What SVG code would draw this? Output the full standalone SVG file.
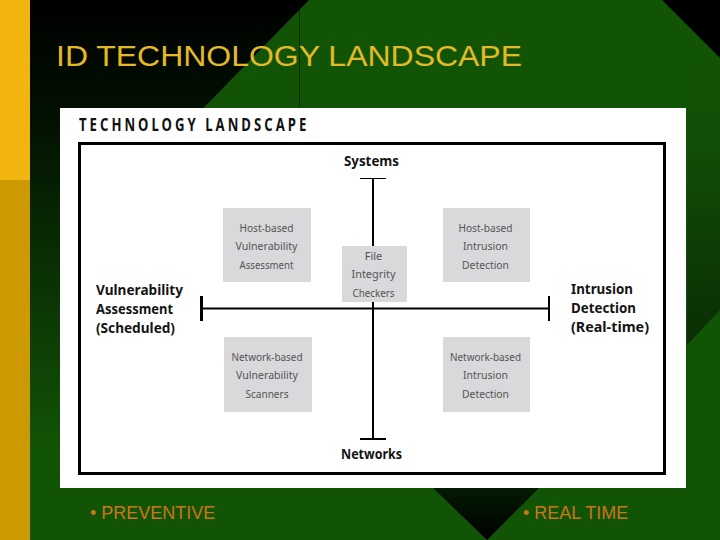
<svg xmlns="http://www.w3.org/2000/svg" width="720" height="540" viewBox="0 0 720 540">
<style>
.box{fill:#d9d8da}
.t{font-family:"Noto Sans","Liberation Sans",sans-serif;text-anchor:middle}
.g{font-size:11px;fill:#555}
.b{font-size:14.5px;font-weight:700;fill:#141414;text-anchor:start}
.c{font-size:14.5px;font-weight:700;fill:#141414}
.bul{font-family:"Liberation Sans",Arial,sans-serif;font-size:18px;fill:#cb7418}
.ax{stroke:#000;fill:none}
</style>
<defs>
<linearGradient id="dk" gradientUnits="userSpaceOnUse" x1="0" y1="0" x2="0" y2="450"><stop offset="0" stop-color="#000"/><stop offset="0.25" stop-color="#021002"/><stop offset="1" stop-color="#125406"/></linearGradient>
<linearGradient id="right" gradientUnits="userSpaceOnUse" x1="0" y1="60" x2="0" y2="345"><stop offset="0" stop-color="#125406"/><stop offset="0.3" stop-color="#114e06"/><stop offset="1" stop-color="#0a2d04"/></linearGradient>
<linearGradient id="tri" x1="0" y1="0" x2="0" y2="1"><stop offset="0" stop-color="#031a02"/><stop offset="1" stop-color="#000"/></linearGradient>
</defs>
<g id="background">
<rect width="720" height="540" fill="#125406"/>
<polygon points="687,60 720,60 720,310 687,345" fill="url(#right)"/>
<polygon points="30,0 309,0 60,255 60,488 30,488" fill="url(#dk)"/>
<polygon points="662,0 720,0 720,58" fill="#000"/>
<polygon points="433,488 539,488 487,540" fill="url(#tri)"/>
<line x1="299.5" y1="10" x2="299.500" y2="108" stroke="#0a2f06" stroke-width="1"/>
<rect x="0" y="0" width="30" height="180" fill="#f2b50f"/>
<rect x="0" y="180" width="30" height="360" fill="#cc9a00"/>
</g>
<text id="title" x="56" y="66" font-family="Liberation Sans,Arial,sans-serif" font-size="29.5" fill="#e3b925" textLength="466" lengthAdjust="spacingAndGlyphs">ID TECHNOLOGY LANDSCAPE</text>
<g id="panel">
<rect x="60" y="108" width="626" height="380" fill="#fff"/>
<text transform="translate(79 131) scale(0.75 1)" font-family="Noto Sans,Liberation Sans,sans-serif" font-size="17.5" font-weight="700" fill="#111" textLength="303" lengthAdjust="spacing">TECHNOLOGY LANDSCAPE</text>
<rect x="79.5" y="143.5" width="585" height="330" fill="none" stroke="#000" stroke-width="3"/>
</g>
<g id="connectors">
<line class="ax" x1="373" y1="178" x2="373" y2="439" stroke-width="2"/>
<line class="ax" x1="360" y1="178.500" x2="386" y2="178.500" stroke-width="1"/>
<line class="ax" x1="360" y1="439" x2="386" y2="439" stroke-width="2"/>
</g>
<g id="file-integrity"><rect class="box" x="342" y="246" width="65" height="56"/>
<text class="t g"><tspan x="373.500" y="260">File</tspan><tspan x="373.500" y="278" textLength="44" lengthAdjust="spacingAndGlyphs">Integrity</tspan><tspan x="373.500" y="297" textLength="42" lengthAdjust="spacingAndGlyphs">Checkers</tspan></text></g>
<g id="connectors-h">
<line class="ax" x1="201" y1="308.500" x2="549" y2="308.500" stroke-width="2"/>
<line class="ax" x1="201.500" y1="296" x2="201.500" y2="321" stroke-width="3"/>
<line class="ax" x1="549" y1="296" x2="549" y2="321" stroke-width="2"/>
</g>
<g id="host-vuln"><rect class="box" x="223" y="208" width="88" height="74"/>
<text class="t g"><tspan x="266.500" y="232" textLength="54" lengthAdjust="spacingAndGlyphs">Host-based</tspan><tspan x="266.500" y="250" textLength="62" lengthAdjust="spacingAndGlyphs">Vulnerability</tspan><tspan x="266.500" y="269" textLength="54" lengthAdjust="spacingAndGlyphs">Assessment</tspan></text></g>
<g id="net-vuln"><rect class="box" x="224" y="337" width="88" height="75"/>
<text class="t g"><tspan x="267" y="361" textLength="71" lengthAdjust="spacingAndGlyphs">Network-based</tspan><tspan x="267" y="379" textLength="62" lengthAdjust="spacingAndGlyphs">Vulnerability</tspan><tspan x="267" y="398" textLength="43" lengthAdjust="spacingAndGlyphs">Scanners</tspan></text></g>
<g id="host-ids"><rect class="box" x="443" y="208" width="87" height="74"/>
<text class="t g"><tspan x="485.500" y="232" textLength="54" lengthAdjust="spacingAndGlyphs">Host-based</tspan><tspan x="485.500" y="250" textLength="45" lengthAdjust="spacingAndGlyphs">Intrusion</tspan><tspan x="485.500" y="269" textLength="47" lengthAdjust="spacingAndGlyphs">Detection</tspan></text></g>
<g id="net-ids"><rect class="box" x="443" y="337" width="87" height="75"/>
<text class="t g"><tspan x="485.500" y="361" textLength="71" lengthAdjust="spacingAndGlyphs">Network-based</tspan><tspan x="485.500" y="379" textLength="45" lengthAdjust="spacingAndGlyphs">Intrusion</tspan><tspan x="485.500" y="398" textLength="47" lengthAdjust="spacingAndGlyphs">Detection</tspan></text></g>
<g id="systems"><text class="t c" x="371.500" y="166" textLength="55" lengthAdjust="spacingAndGlyphs">Systems</text></g>
<g id="networks"><text class="t c" x="371.500" y="459" textLength="61" lengthAdjust="spacingAndGlyphs">Networks</text></g>
<g id="vuln-label"><text class="t b"><tspan x="96" y="295" textLength="87" lengthAdjust="spacingAndGlyphs">Vulnerability</tspan><tspan x="96" y="314" textLength="77" lengthAdjust="spacingAndGlyphs">Assessment</tspan><tspan x="96" y="333" textLength="79" lengthAdjust="spacingAndGlyphs">(Scheduled)</tspan></text></g>
<g id="intrusion-label"><text class="t b"><tspan x="571" y="294" textLength="62" lengthAdjust="spacingAndGlyphs">Intrusion</tspan><tspan x="571" y="313" textLength="65" lengthAdjust="spacingAndGlyphs">Detection</tspan><tspan x="571" y="332" textLength="78" lengthAdjust="spacingAndGlyphs">(Real-time)</tspan></text></g>
<text class="bul" x="90" y="519">• PREVENTIVE</text>
<text class="bul" x="523" y="519">• REAL TIME</text>
</svg>
